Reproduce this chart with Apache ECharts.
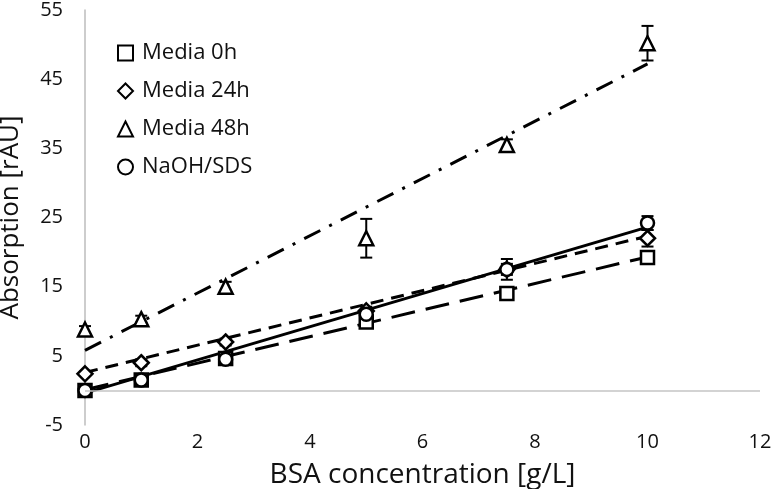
<!DOCTYPE html>
<html><head><meta charset="utf-8">
<script src="https://cdn.jsdelivr.net/npm/echarts@6/dist/echarts.min.js"></script>
<style>html,body{margin:0;padding:0;background:#fff}#c{width:774px;height:489px}</style>
</head><body><div id="c"></div>
<script>
const xValues = [0, 1, 2.5, 5, 7.5, 10];
const media0h = [0, 1.5, 4.6, 9.9, 14.0, 19.2];
const media24h = [2.4, 4.0, 7.0, 11.5, 17.5, 22.0];
const media48h = [8.8, 10.3, 15.0, 22.0, 35.5, 50.2];
const naohSds = [0, 1.5, 4.5, 11.0, 17.5, 24.2];
const err0h = [0.3, 0.4, 0.5, 0.8, 0.6, 0.8];
const err24h = [0.3, 0.5, 0.5, 0.6, 0.8, 1.2];
const err48h = [0.5, 0.5, 0.7, 2.8, 0.8, 2.5];
const errNaoh = [0.3, 0.5, 0.8, 0.8, 1.5, 1.0];
const trendX = [0, 10];
const trend0h = [0.1, 19.3];
const trend24h = [2.6, 22.3];
const trend48h = [5.8, 47.2];
const trendNaoh = [-0.4, 23.6];
const names = ['Media 0h', 'Media 24h', 'Media 48h', 'NaOH/SDS'];
const xTicks = [0, 2, 4, 6, 8, 10, 12];
const yTicks = [-5, 5, 15, 25, 35, 45, 55];

const FONT = '"Open Sans", "Noto Sans", sans-serif';
const pts = arr => xValues.map((x, i) => [x, arr[i]]);
const errData = (arr, e) => xValues.map((x, i) => [x, arr[i] - e[i], arr[i] + e[i]]);
const trend = arr => trendX.map((x, i) => [x, arr[i]]);

function errSeries(arr, e) {
  return {
    type: 'custom', silent: true, z: 3,
    data: errData(arr, e),
    renderItem: function (params, api) {
      const x = api.value(0);
      const lo = api.coord([x, api.value(1)]);
      const hi = api.coord([x, api.value(2)]);
      const w = 6;
      const st = { stroke: '#000', lineWidth: 2 };
      return { type: 'group', children: [
        { type: 'line', shape: { x1: lo[0], y1: lo[1], x2: hi[0], y2: hi[1] }, style: st },
        { type: 'line', shape: { x1: lo[0] - w, y1: lo[1], x2: lo[0] + w, y2: lo[1] }, style: st },
        { type: 'line', shape: { x1: hi[0] - w, y1: hi[1], x2: hi[0] + w, y2: hi[1] }, style: st }
      ]};
    }
  };
}
function scatter(name, arr, symbol, size) {
  return {
    name: name, type: 'scatter', data: pts(arr), symbol: symbol, symbolSize: size, z: 4,
    itemStyle: { color: '#fff', borderColor: '#000', borderWidth: 2.5, opacity: 1 }
  };
}
function trendSeries(arr, type, width) {
  return {
    type: 'line', data: trend(arr), symbol: 'none', silent: true, z: 2,
    lineStyle: { color: '#000', width: width, type: type }
  };
}

const chart = echarts.init(document.getElementById('c'), null, { renderer: 'canvas' });
chart.setOption({
  animation: false,
  backgroundColor: '#fff',
  grid: { left: 85, right: 14, top: 10, bottom: 64, containLabel: false, outerBoundsMode: 'none' },
  legend: {
    data: names, orient: 'vertical', left: 112, top: 37, itemGap: 16,
    itemWidth: 15, itemHeight: 15,
    textStyle: { fontFamily: FONT, fontSize: 22, color: '#111', padding: [0, 0, 0, 4] }
  },
  xAxis: {
    type: 'value', min: 0, max: 12, interval: 2,
    name: 'BSA concentration [g/L]', nameLocation: 'middle', nameGap: 36,
    nameTextStyle: { fontFamily: FONT, fontSize: 28, color: '#111' },
    axisLine: { show: false, onZero: false }, axisTick: { show: false },
    splitLine: { show: false },
    axisLabel: { fontFamily: FONT, fontSize: 20, color: '#111', margin: 7,
      formatter: v => xTicks.includes(v) ? String(v) : '' }
  },
  yAxis: {
    type: 'value', min: -5, max: 55, interval: 10,
    name: 'Absorption [rAU]', nameLocation: 'middle', nameGap: 61, nameMoveOverlap: false,
    nameTextStyle: { fontFamily: FONT, fontSize: 26, color: '#111' },
    axisLine: { show: true, onZero: false, lineStyle: { color: '#bdbdbd', width: 1.5 } },
    axisTick: { show: false }, splitLine: { show: false },
    axisLabel: { fontFamily: FONT, fontSize: 20, color: '#111', margin: 22,
      formatter: v => yTicks.includes(v) ? String(v) : '' }
  },
  series: [
    Object.assign(trendSeries(trend0h, [24, 11], 3), {
      markLine: { silent: true, symbol: 'none', label: { show: false },
        lineStyle: { color: '#c4c4c4', width: 1.5, type: 'solid' },
        data: [{ yAxis: 0 }] }
    }),
    trendSeries(trend24h, [13, 8], 3),
    trendSeries(trend48h, [18, 10, 3, 10], 3),
    trendSeries(trendNaoh, 'solid', 3),
    errSeries(media0h, err0h),
    errSeries(media24h, err24h),
    errSeries(media48h, err48h),
    errSeries(naohSds, errNaoh),
    scatter('Media 0h', media0h, 'rect', 13),
    scatter('Media 24h', media24h, 'diamond', 15),
    scatter('Media 48h', media48h, 'triangle', 14),
    scatter('NaOH/SDS', naohSds, 'circle', 13)
  ]
});
</script></body></html>
